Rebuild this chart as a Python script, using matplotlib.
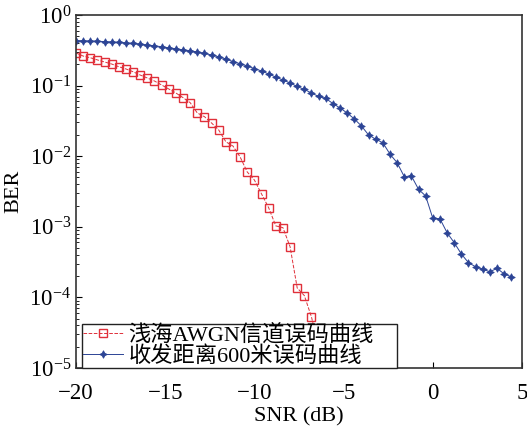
import numpy as np
import matplotlib
matplotlib.use("Agg")
import matplotlib.pyplot as plt
from matplotlib.ticker import LogLocator, NullFormatter

plt.rcParams['font.family'] = ['Liberation Serif', 'Noto Sans CJK SC']
plt.rcParams['mathtext.fontset'] = 'stix'

snr_red = [-20.0, -19.6, -19.2, -18.8, -18.4, -18.0, -17.6, -17.2, -16.8, -16.4,
           -16.0, -15.6, -15.2, -14.8, -14.4, -14.0, -13.6, -13.2, -12.8, -12.4,
           -12.0, -11.6, -11.2, -10.8, -10.4, -10.0, -9.6, -9.2, -8.8, -8.4,
           -8.0, -7.6, -7.2, -6.8, -6.4]
ber_red = [0.290, 0.262, 0.248, 0.231, 0.216, 0.202, 0.185, 0.172, 0.157, 0.141,
           0.128, 0.116, 0.102, 0.0895, 0.0785, 0.0675, 0.0573, 0.0409, 0.0363, 0.0295,
           0.0235, 0.0160, 0.0139, 0.00975, 0.00597, 0.00460, 0.00292, 0.00186, 0.00103, 0.000971,
           0.000522, 0.000136, 0.000106, 5.27e-5, 2.0e-5]

snr_blue = [-20.0, -19.6, -19.2, -18.8, -18.4, -18.0, -17.6, -17.2, -16.8, -16.4,
            -16.0, -15.6, -15.2, -14.8, -14.4, -14.0, -13.6, -13.2, -12.8, -12.4,
            -12.0, -11.6, -11.2, -10.8, -10.4, -10.0, -9.6, -9.2, -8.8, -8.4,
            -8.0, -7.6, -7.2, -6.8, -6.4, -6.0, -5.6, -5.2, -4.8, -4.4,
            -4.0, -3.6, -3.2, -2.8, -2.4, -2.0, -1.6, -1.2, -0.8, -0.4,
            0.0, 0.4, 0.8, 1.2, 1.6, 2.0, 2.4, 2.8, 3.2, 3.6,
            4.0, 4.4]
ber_blue = [0.435, 0.431, 0.428, 0.424, 0.420, 0.415, 0.409, 0.403, 0.395, 0.386,
            0.376, 0.366, 0.355, 0.343, 0.332, 0.321, 0.312, 0.299, 0.285, 0.271,
            0.256, 0.238, 0.219, 0.204, 0.190, 0.174, 0.161, 0.146, 0.132, 0.120,
            0.109, 0.0971, 0.0881, 0.0786, 0.0701, 0.0657, 0.0557, 0.0482, 0.0409, 0.0337,
            0.0268, 0.0200, 0.0174, 0.0155, 0.0107, 0.00809, 0.00513, 0.00525, 0.00340, 0.00273,
            0.00132, 0.00130, 0.000825, 0.000596, 0.000412, 0.000310, 0.000272, 0.000250, 0.000231, 0.000258,
            0.000215, 0.000196]

label_red = '浅海AWGN信道误码曲线'
label_blue = '收发距离600米误码曲线'
xticks = [-20, -15, -10, -5, 0, 5]

fig = plt.figure(figsize=(5.27, 4.28), dpi=100)
ax = fig.add_axes([0.1442, 0.1402, 0.8463, 0.8248])

ax.semilogy(snr_red, ber_red, linestyle='--', color='#e0303a', linewidth=0.7,
            marker='s', markersize=6, markerfacecolor='none', markeredgecolor='#e0303a',
            markeredgewidth=1.0, label=label_red)
ax.semilogy(snr_blue, ber_blue, linestyle='-', color='#2c4495', linewidth=0.7,
            marker=(4, 1, 0), markersize=5.5, markerfacecolor='#2c4495', markeredgecolor='#2c4495',
            markeredgewidth=0.5, label=label_blue)

ax.set_xlim(-20, 5)
ax.set_ylim(1e-5, 1)
ax.set_xticks(xticks)
ax.set_xticklabels(['\u221220', '\u221215', '\u221210', '\u22125', '0', '5'])
ax.yaxis.set_major_locator(LogLocator(base=10, numticks=10))
ax.yaxis.set_minor_locator(LogLocator(base=10, subs=np.arange(2, 10), numticks=20))
ax.yaxis.set_minor_formatter(NullFormatter())
ax.tick_params(axis='both', which='both', direction='in', labelsize=16.5, top=False, right=False)
ax.tick_params(axis='both', which='major', length=4, width=0.8)
ax.tick_params(axis='y', which='minor', length=2, width=0.6)
ax.tick_params(axis='x', which='major', pad=11)

for s in ax.spines.values():
    s.set_color('#333333')
    s.set_linewidth(1.2)

ax.set_xlabel('SNR (dB)', fontsize=16, labelpad=2)
ax.set_ylabel('BER', fontsize=16, labelpad=4)

leg = ax.legend(loc='lower left', bbox_to_anchor=(0.013, 0.0, 0.706, 0.1), mode='expand',
                borderaxespad=0.0,
                prop={'family': ['Liberation Serif', 'Noto Sans CJK SC'], 'size': 16},
                frameon=True, fancybox=False, edgecolor='#222222', framealpha=1,
                borderpad=0.05, labelspacing=0.0, handlelength=1.8, handletextpad=0.25)
leg.get_frame().set_linewidth(1.0)

fig.savefig('out.png', dpi=100)
